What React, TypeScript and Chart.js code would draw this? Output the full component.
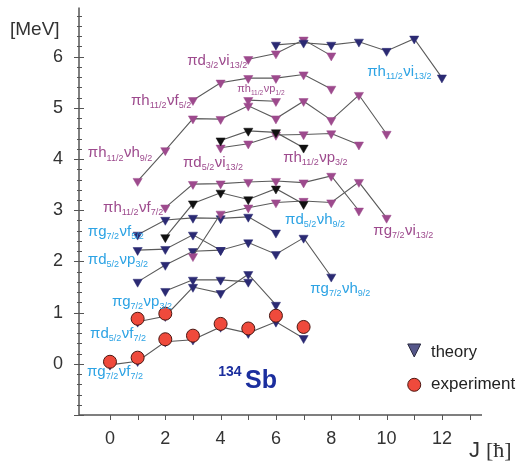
import React, { useEffect, useRef } from "react";
import { Chart, registerables } from "chart.js";

Chart.register(...registerables);

// ---------- colours ----------
const NAVY = "#2b2a73";
const MAGENTA = "#9d4a8d";
const BLACK = "#111111";
const BLUE_TXT = "#2da3e4";
const MAG_TXT = "#9d4a8d";
const LINE = "#5a5a5a";

// ---------- tick labels ----------
const xTickLabels = [0, 2, 4, 6, 8, 10, 12];
const yTickLabels = [0, 1, 2, 3, 4, 5, 6];

// ---------- theory series (J values and energies in MeV) ----------
const jH11I13 = [6, 7, 8, 9, 10, 11, 12];
const eH11I13 = [6.23, 6.27, 6.23, 6.29, 6.11, 6.35, 5.59];

const jD3I13 = [5, 6, 7, 8];
const eD3I13 = [5.95, 6.06, 6.33, 6.02];

const jH11F5 = [3, 4, 5, 6, 7, 8];
const eH11F5 = [5.15, 5.49, 5.58, 5.58, 5.65, 5.37];

const jH11P1 = [5, 6];
const eH11P1 = [5.15, 5.13];

const jH11H9 = [1, 2, 3, 4, 5, 6, 7, 8, 9, 10];
const eH11H9 = [3.57, 4.17, 4.79, 4.78, 5.04, 4.79, 5.13, 4.76, 5.25, 4.49];

const jH11P3 = [4, 5, 6, 7];
const eH11P3 = [4.36, 4.55, 4.52, 4.22];

const jD5I13 = [4, 5, 6, 7, 8, 9];
const eD5I13 = [4.22, 4.3, 4.47, 4.48, 4.5, 4.28];

const jH11F7 = [2, 3, 4, 5, 6, 7, 8, 9];
const eH11F7 = [3.05, 3.51, 3.52, 3.55, 3.57, 3.54, 3.67, 2.99];

const jD5H9 = [2, 3, 4, 5, 6, 7];
const eD5H9 = [2.47, 3.13, 3.34, 3.21, 3.42, 3.12];

const jG7I13 = [3, 4, 5, 6, 7, 8, 9, 10];
const eG7I13 = [2.1, 2.93, 3.05, 3.15, 3.18, 3.15, 3.55, 2.85];

const jG7F5 = [1, 2, 3, 4, 5, 6];
const eG7F5 = [2.52, 2.81, 2.85, 2.84, 2.87, 2.56];

const jD5P3 = [1, 2, 3, 4, 5, 6, 7, 8];
const eD5P3 = [2.22, 2.24, 2.52, 2.22, 2.37, 2.14, 2.46, 1.7];

const jD5P3b = [1, 2, 3, 4];
const eD5P3b = [1.6, 1.93, 2.2, 2.22];

const jG7P3 = [2, 3, 4, 5];
const eG7P3 = [1.42, 1.64, 1.64, 1.6];

const jD5F7 = [1, 2, 3, 4, 5, 6];
const eD5F7 = [0.82, 0.93, 1.5, 1.38, 1.75, 1.15];

const jG7F7 = [0, 1, 2, 3, 4, 5, 6, 7];
const eG7F7 = [-0.02, 0.05, 0.43, 0.47, 0.72, 0.6, 0.82, 0.5];

// ---------- experiment ----------
const jExpA = [0, 1, 2, 3, 4, 5, 6, 7];
const eExpA = [0.04, 0.12, 0.48, 0.55, 0.78, 0.69, 0.94, 0.72];
const jExpB = [1, 2];
const eExpB = [0.88, 0.98];

type Series = { j: number[]; e: number[]; color: string };
const theory: Series[] = [
  { j: jH11I13, e: eH11I13, color: NAVY },
  { j: jD3I13, e: eD3I13, color: MAGENTA },
  { j: jH11F5, e: eH11F5, color: MAGENTA },
  { j: jH11P1, e: eH11P1, color: MAGENTA },
  { j: jH11H9, e: eH11H9, color: MAGENTA },
  { j: jH11P3, e: eH11P3, color: BLACK },
  { j: jD5I13, e: eD5I13, color: MAGENTA },
  { j: jH11F7, e: eH11F7, color: MAGENTA },
  { j: jD5H9, e: eD5H9, color: BLACK },
  { j: jG7I13, e: eG7I13, color: MAGENTA },
  { j: jG7F5, e: eG7F5, color: NAVY },
  { j: jD5P3, e: eD5P3, color: NAVY },
  { j: jD5P3b, e: eD5P3b, color: NAVY },
  { j: jG7P3, e: eG7P3, color: NAVY },
  { j: jD5F7, e: eD5F7, color: NAVY },
  { j: jG7F7, e: eG7F7, color: NAVY },
];

// ---------- configuration labels (text parts: main, sub, main, sub) ----------
type Lab = { parts: string[]; j: number; e: number; color: string; size: number };
const configLabels: Lab[] = [
  { parts: ["πg", "7/2", "νf", "7/2"], j: -0.83, e: -0.23, color: BLUE_TXT, size: 15 },
  { parts: ["πd", "5/2", "νf", "7/2"], j: -0.72, e: 0.51, color: BLUE_TXT, size: 15 },
  { parts: ["πg", "7/2", "νp", "3/2"], j: 0.07, e: 1.13, color: BLUE_TXT, size: 15 },
  { parts: ["πd", "5/2", "νp", "3/2"], j: -0.8, e: 1.95, color: BLUE_TXT, size: 15 },
  { parts: ["πg", "7/2", "νf", "5/2"], j: -0.8, e: 2.5, color: BLUE_TXT, size: 15 },
  { parts: ["πd", "5/2", "νh", "9/2"], j: 6.33, e: 2.74, color: BLUE_TXT, size: 15 },
  { parts: ["πg", "7/2", "νh", "9/2"], j: 7.24, e: 1.39, color: BLUE_TXT, size: 15 },
  { parts: ["πh", "11/2", "νi", "13/2"], j: 9.3, e: 5.63, color: BLUE_TXT, size: 15 },
  { parts: ["πd", "3/2", "νi", "13/2"], j: 2.79, e: 5.84, color: MAG_TXT, size: 15 },
  { parts: ["πh", "11/2", "νf", "5/2"], j: 0.76, e: 5.06, color: MAG_TXT, size: 15 },
  { parts: ["πh", "11/2", "νp", "1/2"], j: 4.6, e: 5.3, color: MAG_TXT, size: 11 },
  { parts: ["πh", "11/2", "νh", "9/2"], j: -0.8, e: 4.03, color: MAG_TXT, size: 15 },
  { parts: ["πd", "5/2", "νi", "13/2"], j: 2.64, e: 3.85, color: MAG_TXT, size: 15 },
  { parts: ["πh", "11/2", "νf", "7/2"], j: -0.25, e: 2.97, color: MAG_TXT, size: 15 },
  { parts: ["πh", "11/2", "νp", "3/2"], j: 6.26, e: 3.95, color: MAG_TXT, size: 15 },
  { parts: ["πg", "7/2", "νi", "13/2"], j: 9.52, e: 2.52, color: MAG_TXT, size: 15 },
];

const SANS = "'Liberation Sans', Arial, Helvetica, sans-serif";
const SERIF = "'Liberation Serif', 'DejaVu Serif', serif";

const overlay = {
  id: "overlay",
  beforeDatasetsDraw(chart: any) {
    const { ctx, chartArea } = chart;
    const xs = chart.scales.x;
    const ys = chart.scales.y;
    ctx.save();
    ctx.strokeStyle = "#555";
    ctx.lineWidth = 1;
    // x tick marks every 1
    for (let j = 0; j <= 13; j++) {
      const x = Math.round(xs.getPixelForValue(j)) + 0.5;
      ctx.beginPath();
      ctx.moveTo(x, chartArea.bottom);
      ctx.lineTo(x, chartArea.bottom + 5);
      ctx.stroke();
    }
    // y tick marks every 0.2
    for (let k = -5; k <= 34; k++) {
      const v = k / 5;
      const y = Math.round(ys.getPixelForValue(v)) + 0.5;
      const major = k % 5 === 0;
      ctx.beginPath();
      ctx.moveTo(chartArea.left - (major ? 5 : 2), y);
      ctx.lineTo(chartArea.left + (major ? 5 : 3), y);
      ctx.stroke();
    }
    // axis lines
    ctx.lineWidth = 1.5;
    ctx.strokeStyle = "#555";
    ctx.beginPath();
    ctx.moveTo(chartArea.left, chartArea.top);
    ctx.lineTo(chartArea.left, chartArea.bottom);
    ctx.lineTo(chartArea.right, chartArea.bottom);
    ctx.stroke();
    ctx.restore();
  },
  afterDatasetsDraw(chart: any) {
    const { ctx } = chart;
    const xs = chart.scales.x;
    const ys = chart.scales.y;
    const px = (j: number) => xs.getPixelForValue(j);
    const py = (e: number) => ys.getPixelForValue(e);
    ctx.save();
    ctx.textAlign = "left";
    ctx.textBaseline = "alphabetic";
    // configuration labels
    for (const l of configLabels) {
      let x = px(l.j);
      const y = py(l.e);
      ctx.fillStyle = l.color;
      l.parts.forEach((p, i) => {
        const sub = i % 2 === 1;
        const fs = sub ? l.size * 0.6 : l.size;
        ctx.font = `${fs}px ${SANS}`;
        ctx.fillText(p, x, sub ? y + l.size * 0.22 : y);
        x += ctx.measureText(p).width + (sub ? 0.5 : 0);
      });
    }
    // 134Sb
    ctx.fillStyle = "#1b2e9e";
    ctx.font = `bold 14px ${SANS}`;
    ctx.fillText("134", px(3.91), py(-0.23));
    ctx.font = `bold 25px ${SANS}`;
    ctx.fillText("Sb", px(4.88), py(-0.47));

    // legend
    const lx = px(11.0);
    const ly1 = py(0.27);
    ctx.beginPath();
    ctx.moveTo(lx - 6.5, ly1 - 6);
    ctx.lineTo(lx + 6.5, ly1 - 6);
    ctx.lineTo(lx, ly1 + 7);
    ctx.closePath();
    ctx.fillStyle = "#55578a";
    ctx.fill();
    ctx.strokeStyle = "#2a2a40";
    ctx.lineWidth = 1;
    ctx.stroke();
    const ly2 = py(-0.41);
    ctx.beginPath();
    ctx.arc(lx, ly2, 6.5, 0, Math.PI * 2);
    ctx.fillStyle = "#ef4a3c";
    ctx.fill();
    ctx.strokeStyle = "#4a1510";
    ctx.stroke();
    ctx.fillStyle = "#222";
    ctx.font = `16.5px ${SANS}`;
    ctx.fillText("theory", px(11.61), py(0.14));
    ctx.font = `17px ${SANS}`;
    ctx.fillText("experiment", px(11.61), py(-0.49));

    // axis titles
    ctx.fillStyle = "#333";
    ctx.font = `19px ${SANS}`;
    ctx.fillText("[MeV]", 10, 35);
    ctx.font = `22px ${SANS}`;
    ctx.fillText("J", 469, 457);
    ctx.font = `22px ${SERIF}`;
    ctx.fillText("[ħ]", 486, 457);
    ctx.restore();
  },
};

export default function App() {
  const ref = useRef<HTMLCanvasElement | null>(null);
  useEffect(() => {
    if (!ref.current) return;
    const datasets: any[] = [];
    datasets.push({
      label: "experiment",
      data: jExpA.map((j, i) => ({ x: j, y: eExpA[i] })),
      showLine: false,
      pointStyle: "circle",
      pointRadius: 6.5,
      backgroundColor: "#ef4a3c",
      borderColor: "#4a1510",
      borderWidth: 1,
      order: 0,
    });
    datasets.push({
      label: "experiment2",
      data: jExpB.map((j, i) => ({ x: j, y: eExpB[i] })),
      showLine: false,
      pointStyle: "circle",
      pointRadius: 6.5,
      backgroundColor: "#ef4a3c",
      borderColor: "#4a1510",
      borderWidth: 1,
      order: 0,
    });
    theory.forEach((s, k) => {
      datasets.push({
        label: "theory" + k,
        data: s.j.map((j, i) => ({ x: j, y: s.e[i] })),
        showLine: true,
        borderColor: LINE,
        borderWidth: 1.1,
        pointStyle: "triangle",
        pointRotation: 180,
        pointRadius: 5.3,
        pointBackgroundColor: s.color,
        pointBorderColor: s.color,
        pointBorderWidth: 0.5,
        order: 1,
      });
    });
    const fitY = (s: any) => {
      s.width = 79;
      s.paddingTop = 0;
      s.paddingBottom = 0;
      s.paddingLeft = 0;
      s.paddingRight = 0;
    };
    const fitX = (s: any) => {
      s.height = 51;
      s.paddingTop = 0;
      s.paddingBottom = 0;
      s.paddingLeft = 0;
      s.paddingRight = 0;
    };
    const chart = new Chart(ref.current, {
      type: "scatter",
      data: { datasets },
      options: {
        animation: false,
        responsive: false,
        devicePixelRatio: 1,
        layout: { padding: { left: 0, top: 7, right: 40, bottom: 0 } },
        plugins: { legend: { display: false }, tooltip: { enabled: false } },
        scales: {
          x: {
            type: "linear",
            min: -1.12,
            max: 13.45,
            grid: { display: false, drawTicks: false },
            border: { display: false },
            afterBuildTicks: (s: any) => {
              s.ticks = xTickLabels.map((v) => ({ value: v }));
            },
            afterFit: fitX,
            ticks: {
              autoSkip: false,
              maxRotation: 0,
              padding: 13,
              color: "#333",
              font: { size: 18, family: SANS },
            },
          },
          y: {
            type: "linear",
            min: -1,
            max: 6.96,
            grid: { display: false, drawTicks: false },
            border: { display: false },
            afterBuildTicks: (s: any) => {
              s.ticks = yTickLabels.map((v) => ({ value: v }));
            },
            afterFit: fitY,
            ticks: {
              autoSkip: false,
              padding: 16,
              color: "#333",
              font: { size: 18, family: SANS },
            },
          },
        },
      },
      plugins: [overlay],
    } as any);
    return () => chart.destroy();
  }, []);
  return (
    <div style={{ position: "fixed", left: 0, top: 0, width: 522, height: 466, background: "#fff" }}>
      <canvas ref={ref} width={522} height={466} style={{ display: "block" }} />
    </div>
  );
}
